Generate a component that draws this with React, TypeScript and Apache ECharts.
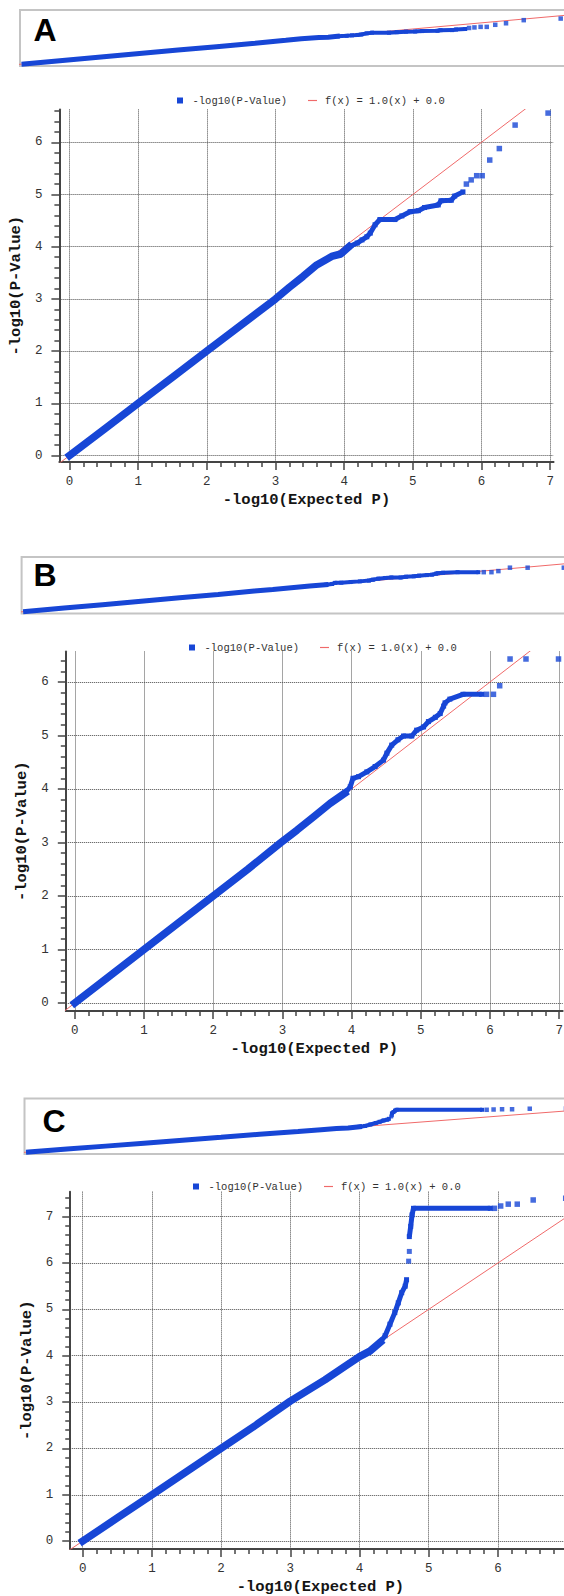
import React, { useEffect, useRef } from 'react';
import * as echarts from 'echarts';

type P = [number, number];

// ---------- texts ----------
const S1 = '-log10(P-Value)';
const S2 = 'f(x) = 1.0(x) + 0.0';
const X_NAME = '-log10(Expected P)';
const Y_NAME = '-log10(P-Value)';
const LETTERS = ['A', 'B', 'C'];

// ---------- tick labels ----------
const X_TICKS = [0, 1, 2, 3, 4, 5, 6, 7];
const X_LABELS_AB = [0, 1, 2, 3, 4, 5, 6, 7];
const X_LABELS_C = [0, 1, 2, 3, 4, 5, 6];
const Y_TICKS_A = [0, 1, 2, 3, 4, 5, 6];
const Y_TICKS_B = [0, 1, 2, 3, 4, 5, 6];
const Y_TICKS_C = [0, 1, 2, 3, 4, 5, 6, 7];
const MINOR_STEPS = 5; // minor divisions per unit

// ---------- reference line f(x) = x ----------
const REF_LINE: P[] = [[-1, -1], [9, 9]];

// ---------- panel A ----------
const aBand: P[] = [[0, 0], [0.5, 0.5], [1, 1], [1.5, 1.5], [2, 2], [2.5, 2.5], [3, 3], [3.2, 3.22], [3.4, 3.43], [3.6, 3.65], [3.83, 3.82], [3.95, 3.86], [4.07, 4.0]];
const aStep: P[] = [[4.07, 4.0], [4.19, 4.07], [4.26, 4.13], [4.33, 4.19], [4.38, 4.26], [4.45, 4.42], [4.52, 4.52], [4.74, 4.52], [4.84, 4.59], [4.96, 4.67], [5.08, 4.69], [5.17, 4.75], [5.37, 4.8], [5.41, 4.88], [5.56, 4.89], [5.61, 4.97], [5.73, 5.05]];
const aTail: P[] = [[5.78, 5.2], [5.85, 5.28], [5.93, 5.36], [6.01, 5.36], [6.12, 5.66], [6.26, 5.88], [6.49, 6.33], [6.97, 6.56]];

// ---------- panel B ----------
const bBand: P[] = [[0, 0], [0.5, 0.5], [1, 1], [1.5, 1.5], [2, 2], [2.5, 2.5], [2.97, 2.99], [3.21, 3.23], [3.45, 3.48], [3.69, 3.73], [3.9, 3.92]];
const bStep: P[] = [[3.9, 3.92], [3.98, 4.04], [4.02, 4.2], [4.1, 4.23], [4.22, 4.32], [4.34, 4.42], [4.46, 4.54], [4.51, 4.67], [4.58, 4.82], [4.67, 4.92], [4.75, 4.99], [4.87, 4.99], [4.94, 5.1], [5.04, 5.16], [5.11, 5.26], [5.21, 5.34], [5.28, 5.41], [5.33, 5.55], [5.35, 5.61], [5.42, 5.68], [5.61, 5.77], [5.88, 5.77]];
const bTail: P[] = [[5.95, 5.77], [6.05, 5.77], [6.14, 5.93], [6.29, 6.43], [6.52, 6.43], [6.99, 6.43]];

// ---------- panel C ----------
const cBand: P[] = [[0, 0], [0.5, 0.5], [1, 1], [1.5, 1.5], [2, 2], [2.5, 2.5], [3, 3.02], [3.5, 3.48], [3.8, 3.78], [4.0, 3.98], [4.15, 4.1], [4.3, 4.29]];
const cRise: P[] = [[4.3, 4.29], [4.37, 4.43], [4.44, 4.68], [4.51, 4.93], [4.56, 5.14], [4.61, 5.36], [4.66, 5.5], [4.68, 5.64]];
const cJump: P[] = [[4.71, 6.04], [4.72, 6.25]];
const cTop: P[] = [[4.72, 6.57], [4.74, 6.79], [4.76, 7.04], [4.78, 7.18], [5.89, 7.18]];
const cTail: P[] = [[5.95, 7.18], [6.04, 7.23], [6.15, 7.27], [6.28, 7.27], [6.51, 7.36], [6.98, 7.4]];

// ---------- styles ----------
const BLUE = '#1746d6';
const RED = '#f06a6a';
const AXIS = '#444';
const GRIDC = '#4a4a4a';
const MONO = '"Liberation Mono", "DejaVu Sans Mono", monospace';

const PANELS = [
  {
    letter: LETTERS[0], xLabels: X_LABELS_AB, yTicks: Y_TICKS_A, band: aBand, steps: [aStep], jumps: [] as P[][], tail: aTail,
    x0: 64.3, xu: 69.4, xmin: -0.148, xmax: 7.05, y0: 455.5, yu: 52.2, ymin: -0.125, ymax: 6.63,
    legendLeft: 172, legendTop: 90,
    th: { left: 20, top: 10, height: 56, ymin: -0.3, ymax: 7.8 }, letterPos: [45, 30],
  },
  {
    letter: LETTERS[1], xLabels: X_LABELS_AB, yTicks: Y_TICKS_B, band: bBand, steps: [bStep], jumps: [] as P[][], tail: bTail,
    x0: 74.8, xu: 69.2, xmin: -0.13, xmax: 7.05, y0: 1003, yu: 53.5, ymin: -0.15, ymax: 6.57,
    legendLeft: 184, legendTop: 637,
    th: { left: 21.6, top: 557, height: 56.5, ymin: -0.3, ymax: 8.0 }, letterPos: [45, 575],
  },
  {
    letter: LETTERS[2], xLabels: X_LABELS_C, yTicks: Y_TICKS_C, band: cBand, steps: [cRise, cTop], jumps: [cJump], tail: cTail,
    x0: 82.7, xu: 69.2, xmin: -0.18, xmax: 7.05, y0: 1543, yu: 46.6, ymin: -0.17, ymax: 7.54,
    legendLeft: 188, legendTop: 1176,
    th: { left: 24.5, top: 1098.5, height: 55.5, ymin: -0.34, ymax: 9.1 }, letterPos: [54, 1121],
  },
];

const TH_XMIN = -0.052;
const TH_XMAX = 8;
const TH_XU = 77;

// minor tick positions between the integer ticks, inside [lo, hi]
function minorValues(lo: number, hi: number): number[] {
  const out: number[] = [];
  const start = Math.ceil(lo * MINOR_STEPS);
  const end = Math.floor(hi * MINOR_STEPS);
  for (let k = start; k <= end; k++) {
    if (k % MINOR_STEPS !== 0) out.push(Math.round((k / MINOR_STEPS) * 1000) / 1000);
  }
  return out;
}

function buildOption() {
  const grid: any[] = [];
  const xAxis: any[] = [];
  const yAxis: any[] = [];
  const series: any[] = [];
  const legend: any[] = [];
  const graphic: any[] = [];

  PANELS.forEach((p, i) => {
    const gm = i * 2;
    const gt = i * 2 + 1;
    const am = i * 3; // main axis index
    const at = i * 3 + 1; // thumbnail axis index

    grid.push({
      left: p.x0 + p.xmin * p.xu,
      top: p.y0 - p.ymax * p.yu,
      width: (p.xmax - p.xmin) * p.xu,
      height: (p.ymax - p.ymin) * p.yu,
    });
    grid.push({
      left: p.th.left,
      top: p.th.top,
      width: (TH_XMAX - TH_XMIN) * TH_XU,
      height: p.th.height,
      show: true,
      borderColor: '#c4c4c4',
      borderWidth: 2,
      backgroundColor: '#fff',
    });

    const common = (ticks: number[], labels: number[]) => ({
      type: 'value',
      minInterval: 1,
      maxInterval: 1,
      axisLine: { show: true, onZero: false, lineStyle: { color: AXIS, width: 2 } },
      axisTick: { show: true, inside: false, length: 8, customValues: ticks, lineStyle: { color: AXIS, width: 1.5 } },
      minorTick: { show: false },
      axisLabel: { customValues: labels, color: '#333', fontSize: 12.5, fontFamily: MONO },
      splitLine: { show: true, lineStyle: { color: GRIDC, width: 1, type: [1, 1] } },
      nameLocation: 'middle',
      nameTextStyle: { fontFamily: MONO, fontWeight: 'bold', fontSize: 15.5, color: '#151515' },
    });
    const minorAxis = (pos: string, g: number, lo: number, hi: number) => ({
      type: 'value', gridIndex: g, min: lo, max: hi, position: pos,
      axisLine: { show: false, onZero: false },
      axisTick: { show: true, inside: false, length: 5, customValues: minorValues(lo, hi), lineStyle: { color: AXIS, width: 1.5 } },
      axisLabel: { show: false },
      splitLine: { show: false },
    });

    const cx = common(X_TICKS, p.xLabels);
    xAxis.push({
      ...cx, gridIndex: gm, min: p.xmin, max: p.xmax, position: 'bottom',
      axisLabel: { ...cx.axisLabel, margin: 13 },
      name: X_NAME, nameGap: 30,
    });
    xAxis.push({ type: 'value', gridIndex: gt, min: TH_XMIN, max: TH_XMAX, show: false });
    xAxis.push(minorAxis('bottom', gm, p.xmin, p.xmax));

    const cy = common(p.yTicks, p.yTicks);
    yAxis.push({
      ...cy, gridIndex: gm, min: p.ymin, max: p.ymax, position: 'left',
      axisLabel: { ...cy.axisLabel, margin: 17 },
      name: Y_NAME, nameGap: 24,
    });
    yAxis.push({ type: 'value', gridIndex: gt, min: p.th.ymin, max: p.th.ymax, show: false });
    yAxis.push(minorAxis('left', gm, p.ymin, p.ymax));

    // reference line
    [am, at].forEach((a) => {
      series.push({
        type: 'line', name: S2, xAxisIndex: a, yAxisIndex: a, data: REF_LINE,
        symbol: 'none', color: RED, lineStyle: { color: RED, width: 1 }, clip: true, z: 2, silent: true,
      });
    });

    [am, at].forEach((a) => {
      const main = a === am;
      series.push({
        type: 'line', name: S1, xAxisIndex: a, yAxisIndex: a, data: p.band,
        symbol: 'none', color: BLUE,
        lineStyle: { color: BLUE, width: main ? 7.5 : 5, cap: 'square' }, z: 3, silent: true,
      });
      p.steps.forEach((s) => {
        series.push({
          type: 'line', name: S1, xAxisIndex: a, yAxisIndex: a, data: s,
          symbol: 'rect', symbolSize: main ? 5 : 4, showSymbol: true, showAllSymbol: true, color: BLUE,
          itemStyle: { color: BLUE }, lineStyle: { color: BLUE, width: main ? 5 : 4 }, z: 3, silent: true,
        });
      });
      p.jumps.forEach((s) => {
        series.push({
          type: 'scatter', name: S1, xAxisIndex: a, yAxisIndex: a, data: s,
          symbol: 'rect', symbolSize: main ? 5 : 4, color: BLUE, z: 3, silent: true,
        });
      });
      series.push({
        type: 'scatter', name: S1, xAxisIndex: a, yAxisIndex: a, data: p.tail,
        symbol: 'rect', symbolSize: main ? 5.5 : 4.5, color: BLUE, z: 3, silent: true,
      });
    });

    legend.push({
      left: p.legendLeft, top: p.legendTop, orient: 'horizontal', itemWidth: 9, itemHeight: 6, itemGap: 21,
      selectedMode: false,
      textStyle: { fontFamily: MONO, fontSize: 10.5, color: '#333', padding: [0, 0, 0, 3] },
      data: [
        { name: S1, icon: 'path://M0,0H1V1H0Z' },
        { name: S2, icon: 'path://M0,0H10V1.3H0Z' },
      ],
    });

    graphic.push({
      type: 'text', x: p.letterPos[0], y: p.letterPos[1], silent: true,
      style: {
        text: p.letter, fill: '#000', font: 'bold 32px "Liberation Sans", Arial, sans-serif',
        align: 'center', verticalAlign: 'middle', textAlign: 'center', textVerticalAlign: 'middle',
      },
      z: 100,
    });
  });

  return { animation: false, backgroundColor: '#fff', grid, xAxis, yAxis, series, legend, graphic };
}

export default function App() {
  const ref = useRef<HTMLDivElement>(null);
  useEffect(() => {
    if (!ref.current) return;
    const chart = echarts.init(ref.current, undefined, { renderer: 'svg' });
    chart.setOption(buildOption() as any);
    return () => chart.dispose();
  }, []);
  return (
    <div style={{ position: 'absolute', left: 0, top: 0, width: 564, height: 1596, overflow: 'hidden', background: '#fff' }}>
      <div ref={ref} style={{ width: 720, height: 1596 }} />
    </div>
  );
}
